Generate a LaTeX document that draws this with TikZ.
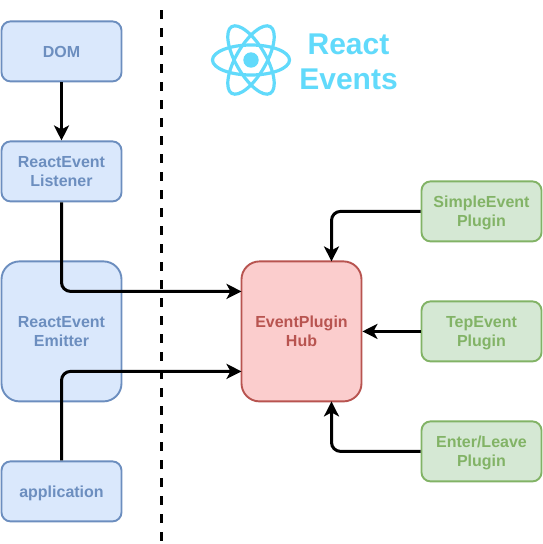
\documentclass[tikz,border=0pt]{standalone}
\usepackage{fontspec}
\setmainfont{Liberation Sans}
\usetikzlibrary{arrows.meta}
\definecolor{bluefill}{HTML}{DAE8FC}
\definecolor{blueline}{HTML}{6C8EBF}
\definecolor{redfill}{HTML}{FBCDCD}
\definecolor{redline}{HTML}{B85450}
\definecolor{greenfill}{HTML}{D5E8D4}
\definecolor{greenline}{HTML}{82B366}
\definecolor{reactblue}{HTML}{61DAFB}
\newcommand{\lnA}{\rule{0pt}{16pt}}
\newcommand{\lnB}{\rule[-4pt]{0pt}{4pt}}
\newcommand{\lnS}{\rule[-4pt]{0pt}{20pt}}
\tikzset{
  x=1pt,y=-1pt,
  boxbase/.style={draw,line width=1.9pt,align=center,inner sep=0pt,minimum width=120pt,minimum height=60pt,rounded corners=9pt,
    font=\bfseries\fontsize{16}{19}\selectfont},
  bluebox/.style={boxbase,fill=bluefill,draw=blueline,text=blueline},
  greenbox/.style={boxbase,fill=greenfill,draw=greenline,text=greenline},
  tallbluebox/.style={bluebox,minimum height=140pt,rounded corners=18pt},
  hubbox/.style={boxbase,minimum height=140pt,rounded corners=18pt,fill=redfill,draw=redline,text=redline},
  conn/.style={draw=black,line width=3pt,rounded corners=9pt,-{Stealth[length=15pt,width=15pt,inset=4pt]}},
  atomring/.style={draw=reactblue,line width=3.2pt},
  titletext/.style={text=reactblue,font=\bfseries\fontsize{30}{35}\selectfont,inner sep=0pt,anchor=base}
}
\begin{document}
\begin{tikzpicture}
\useasboundingbox (0,0) rectangle (542,544);
\fill[white] (0,0) rectangle (542,544);
% divider
\coordinate (divtop) at (161.5,10);
\coordinate (divbot) at (161.5,544);
\draw[line width=3pt,dash pattern=on 9pt off 9pt] (divtop) -- (divbot);
% boxes
\node[bluebox] (dom) at (61.5,51.4) {\lnS DOM};
\node[bluebox] (listener) at (61.5,171.4) {\lnA ReactEvent\\\lnB Listener};
\node[tallbluebox] (emitter) at (61.5,331.4) {\lnA ReactEvent\\\lnB Emitter};
\node[bluebox] (app) at (61.5,491.4) {\lnS application};
\node[hubbox] (hub) at (301.5,331.4) {\lnA EventPlugin\\\lnB Hub};
\node[greenbox] (simple) at (481.5,211.4) {\lnA SimpleEvent\\\lnB Plugin};
\node[greenbox] (tep) at (481.5,331.4) {\lnA TepEvent\\\lnB Plugin};
\node[greenbox] (enter) at (481.5,451.4) {\lnA Enter/Leave\\\lnB Plugin};
% connector targets
\coordinate (hubin1) at (241.5,291.4);
\coordinate (hubin2) at (241.5,371.4);
\coordinate (hubtop) at (331.5,261.4);
\coordinate (hubbot) at (331.5,401.4);
% connectors
\draw[conn] (dom.south) -- (listener.north);
\draw[conn] (listener.south) |- (hubin1);
\draw[conn] (app.north) |- (hubin2);
\draw[conn] (simple.west) -| (hubtop);
\draw[conn] (tep.west) -- (hub.east);
\draw[conn] (enter.west) -| (hubbot);
% logo
\foreach \a in {0,60,120}{
  \draw[atomring,rotate around={\a:(251,60)}] (251,60) ellipse [x radius=38.5pt,y radius=15pt];
}
\fill[reactblue] (251,60) circle (7.7pt);
\node[titletext] (t1) at (348.5,54) {React};
\node[titletext] (t2) at (348.5,89) {Events};
\end{tikzpicture}
\end{document}
